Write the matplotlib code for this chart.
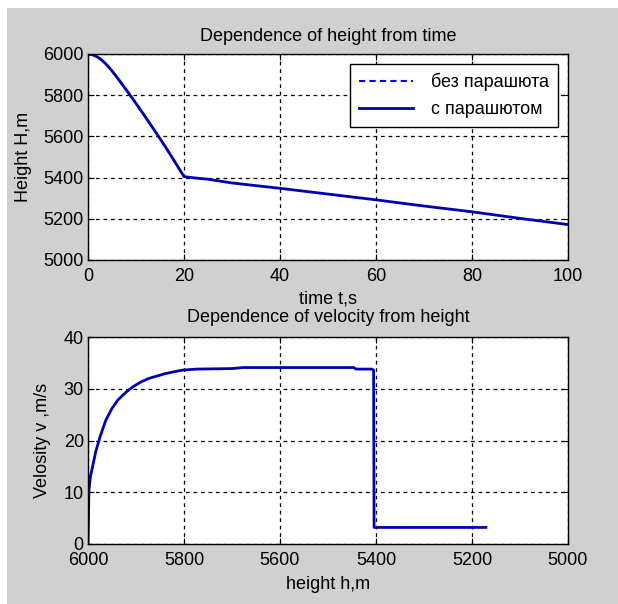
import matplotlib
matplotlib.use("Agg")
import matplotlib.pyplot as plt
from matplotlib.patches import Rectangle

plt.rcParams['font.family'] = ['Liberation Sans', 'DejaVu Sans']

# ---- data: top chart (height vs time) ----
t_chute = [0, 1, 2, 3, 4, 5, 6, 8, 10, 12, 14, 16, 18, 20, 22, 25, 30, 40, 50, 60, 70, 80, 90, 100]
h_chute = [6000, 5996, 5985, 5968, 5945, 5918, 5888, 5825, 5760, 5693, 5624, 5554, 5480, 5405,
           5399, 5392, 5374, 5348, 5320, 5292, 5262, 5234, 5202, 5172]
t_free = [0, 1, 2, 3, 4, 5, 6, 8, 10, 12, 14, 16, 18, 20]
h_free = [6000, 5996, 5985, 5968, 5945, 5918, 5888, 5825, 5760, 5693, 5624, 5554, 5480, 5405]

# ---- data: bottom chart (velocity vs height) ----
h_v = [6000, 5999, 5998, 5995, 5989, 5984, 5975, 5963, 5950, 5938, 5920, 5906, 5890, 5873, 5855,
       5840, 5820, 5803, 5774, 5700, 5676, 5600, 5500, 5446, 5442, 5409, 5405, 5404, 5300, 5200, 5171]
v_v = [0, 5, 10.4, 13, 15.6, 17.8, 20.7, 23.9, 26.2, 27.8, 29.4, 30.4, 31.3, 32.0, 32.5,
       32.9, 33.3, 33.6, 33.8, 33.9, 34.1, 34.1, 34.1, 34.1, 33.8, 33.8, 33.6, 3.2, 3.2, 3.2, 3.2]

legend_labels = ['без парашюта', 'с парашютом']
top_title = 'Dependence of height from time'
bot_title = 'Dependence of velocity from height'

W, H = 618, 604
fig = plt.figure(figsize=(W / 100, H / 100), dpi=100, facecolor='white')
bg = Rectangle((7 / W, 0), 1 - 7 / W, 1 - 8 / H, transform=fig.transFigure,
               facecolor='#d0d0d0', edgecolor='none', zorder=-10)
fig.add_artist(bg)

line_col = '#0000b0'
fs = 13

def ax_rect(l, t, r, b):
    return [l / W, 1 - b / H, (r - l) / W, (b - t) / H]

def style(ax):
    ax.set_facecolor('white')
    for s in ax.spines.values():
        s.set_color('black')
        s.set_linewidth(1.0)
    ax.grid(True, color='black', linestyle=(0, (3, 3)), linewidth=0.9)
    ax.tick_params(direction='in', length=4, labelsize=fs, colors='black', top=True, right=True,
                   labeltop=False, labelright=False)
    ax.tick_params(axis='x', pad=6)
    ax.tick_params(axis='y', pad=3)

ax1 = fig.add_axes(ax_rect(88, 54, 568, 260))
style(ax1)
l1, = ax1.plot(t_free, h_free, color='#0000ff', linestyle=(0, (3, 2)), linewidth=1.5, label=legend_labels[0])
l2, = ax1.plot(t_chute, h_chute, color=line_col, linewidth=2, label=legend_labels[1])
ax1.set_xlim(0, 100)
ax1.set_ylim(5000, 6000)
ax1.set_xticks([0, 20, 40, 60, 80, 100])
ax1.set_yticks([5000, 5200, 5400, 5600, 5800, 6000])
ax1.set_title(top_title, fontsize=fs, pad=9)
ax1.set_xlabel('time t,s', fontsize=fs, labelpad=4)
ax1.set_ylabel('Height H,m', fontsize=fs, labelpad=8)
leg = ax1.legend(loc='upper right', bbox_to_anchor=(0.979, 0.951), fontsize=fs, frameon=True,
                 fancybox=False, framealpha=1, edgecolor='black', borderpad=0.5,
                 handlelength=3.0, handletextpad=1.0, labelspacing=0.55, borderaxespad=0)
leg.get_frame().set_linewidth(1.0)

ax2 = fig.add_axes(ax_rect(88, 337, 568, 544))
style(ax2)
ax2.plot(h_v, v_v, color=line_col, linewidth=2)
ax2.set_xlim(6000, 5000)
ax2.set_ylim(0, 40)
ax2.set_xticks([6000, 5800, 5600, 5400, 5200, 5000])
ax2.set_yticks([0, 10, 20, 30, 40])
ax2.set_title(bot_title, fontsize=fs, pad=11)
ax2.set_xlabel('height h,m', fontsize=fs, labelpad=5)
ax2.set_ylabel('Velosity v ,m/s', fontsize=fs, labelpad=9)

fig.savefig('out.png', dpi=100, facecolor='white')
